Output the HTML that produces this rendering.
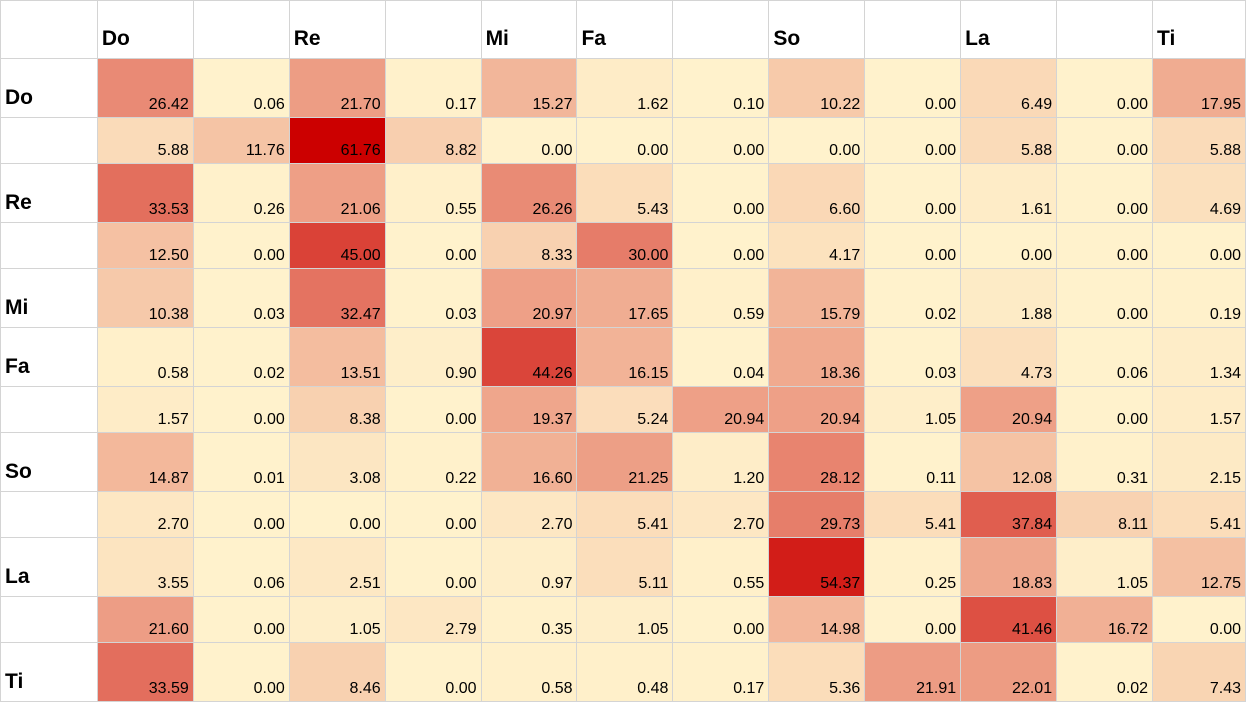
<!DOCTYPE html>
<html><head><meta charset="utf-8"><style>
html,body{margin:0;padding:0;background:#fff;width:1246px;height:704px;overflow:hidden}
table{border-collapse:collapse;table-layout:fixed;font-family:"Liberation Sans",Arial,sans-serif;position:absolute;left:0;top:0}
td{border:1px solid #d4d4d4;padding:0 4px 3px 0;font-size:16px;line-height:18px;text-align:right;vertical-align:bottom;color:#000;overflow:hidden;white-space:nowrap}
td.h{font-weight:bold;font-size:21px;line-height:22px;text-align:left;padding:0 0 0 4px;vertical-align:middle}
tr.t td{height:55px}
tr.t td.h{height:50px;vertical-align:bottom;padding-bottom:8px}
tr.s td{height:42px}
tr.s td.h{height:45px}
tr.hd td{height:51px}
tr.hd td.h{vertical-align:bottom;padding-bottom:8px;height:49px}
</style></head><body>
<table id="g">
<colgroup><col style="width:97px"><col span="11" style="width:96px"><col style="width:93px"></colgroup>
<tr class="hd"><td class="h"></td><td class="h">Do</td><td class="h"></td><td class="h">Re</td><td class="h"></td><td class="h">Mi</td><td class="h">Fa</td><td class="h"></td><td class="h">So</td><td class="h"></td><td class="h">La</td><td class="h"></td><td class="h">Ti</td></tr>
<tr class="t"><td class="h">Do</td><td>26.42</td><td>0.06</td><td>21.70</td><td>0.17</td><td>15.27</td><td>1.62</td><td>0.10</td><td>10.22</td><td>0.00</td><td>6.49</td><td>0.00</td><td>17.95</td></tr>
<tr class="s"><td class="h"></td><td>5.88</td><td>11.76</td><td>61.76</td><td>8.82</td><td>0.00</td><td>0.00</td><td>0.00</td><td>0.00</td><td>0.00</td><td>5.88</td><td>0.00</td><td>5.88</td></tr>
<tr class="t"><td class="h">Re</td><td>33.53</td><td>0.26</td><td>21.06</td><td>0.55</td><td>26.26</td><td>5.43</td><td>0.00</td><td>6.60</td><td>0.00</td><td>1.61</td><td>0.00</td><td>4.69</td></tr>
<tr class="s"><td class="h"></td><td>12.50</td><td>0.00</td><td>45.00</td><td>0.00</td><td>8.33</td><td>30.00</td><td>0.00</td><td>4.17</td><td>0.00</td><td>0.00</td><td>0.00</td><td>0.00</td></tr>
<tr class="t"><td class="h">Mi</td><td>10.38</td><td>0.03</td><td>32.47</td><td>0.03</td><td>20.97</td><td>17.65</td><td>0.59</td><td>15.79</td><td>0.02</td><td>1.88</td><td>0.00</td><td>0.19</td></tr>
<tr class="t"><td class="h">Fa</td><td>0.58</td><td>0.02</td><td>13.51</td><td>0.90</td><td>44.26</td><td>16.15</td><td>0.04</td><td>18.36</td><td>0.03</td><td>4.73</td><td>0.06</td><td>1.34</td></tr>
<tr class="s"><td class="h"></td><td>1.57</td><td>0.00</td><td>8.38</td><td>0.00</td><td>19.37</td><td>5.24</td><td>20.94</td><td>20.94</td><td>1.05</td><td>20.94</td><td>0.00</td><td>1.57</td></tr>
<tr class="t"><td class="h">So</td><td>14.87</td><td>0.01</td><td>3.08</td><td>0.22</td><td>16.60</td><td>21.25</td><td>1.20</td><td>28.12</td><td>0.11</td><td>12.08</td><td>0.31</td><td>2.15</td></tr>
<tr class="s"><td class="h"></td><td>2.70</td><td>0.00</td><td>0.00</td><td>0.00</td><td>2.70</td><td>5.41</td><td>2.70</td><td>29.73</td><td>5.41</td><td>37.84</td><td>8.11</td><td>5.41</td></tr>
<tr class="t"><td class="h">La</td><td>3.55</td><td>0.06</td><td>2.51</td><td>0.00</td><td>0.97</td><td>5.11</td><td>0.55</td><td>54.37</td><td>0.25</td><td>18.83</td><td>1.05</td><td>12.75</td></tr>
<tr class="s"><td class="h"></td><td>21.60</td><td>0.00</td><td>1.05</td><td>2.79</td><td>0.35</td><td>1.05</td><td>0.00</td><td>14.98</td><td>0.00</td><td>41.46</td><td>16.72</td><td>0.00</td></tr>
<tr class="t"><td class="h">Ti</td><td>33.59</td><td>0.00</td><td>8.46</td><td>0.00</td><td>0.58</td><td>0.48</td><td>0.17</td><td>5.36</td><td>21.91</td><td>22.01</td><td>0.02</td><td>7.43</td></tr>
</table>
<script>
var tds=document.querySelectorAll('#g td:not(.h)');
for(var i=0;i<tds.length;i++){var v=parseFloat(tds[i].textContent);var t=Math.min(1,v/61.76);
var r=Math.round(255-51*t),g=Math.round(242*(1-t)),b=Math.round(204*(1-t));
tds[i].style.background='rgb('+r+','+g+','+b+')';}
</script>
</body></html>
